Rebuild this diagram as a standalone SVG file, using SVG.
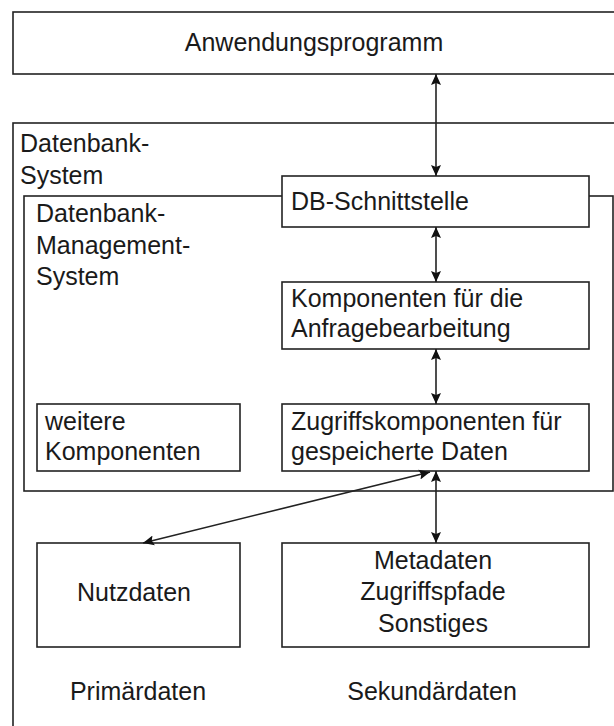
<svg xmlns="http://www.w3.org/2000/svg" width="614" height="726" viewBox="0 0 614 726">
<style>
.box{fill:none;stroke:#222;stroke-width:1.6}
.t{font-family:"Liberation Sans",Arial,sans-serif;font-size:25px;fill:#1a1a1a}
.c{text-anchor:middle}
.con{stroke:#222;stroke-width:1.6;fill:none;marker-start:url(#ah);marker-end:url(#ah)}
</style>
<defs>
<marker id="ah" markerUnits="userSpaceOnUse" markerWidth="12" markerHeight="12" viewBox="0 -6 12 12" refX="11" refY="0" orient="auto-start-reverse">
<path d="M0,-5 L11,0 L0,5 L2,0 z" fill="#111"/>
</marker>
</defs>
<rect width="614" height="726" fill="#fff"/>
<g id="anwendungsprogramm">
<rect class="box" x="13" y="12" width="610" height="62"/>
<text class="t c" x="314" y="51">Anwendungsprogramm</text>
</g>
<g id="datenbank-system">
<rect class="box" x="13" y="123" width="610" height="620"/>
<text class="t" x="20" y="152">Datenbank-</text>
<text class="t" x="20" y="184">System</text>
</g>
<g id="dbms">
<rect class="box" x="24" y="196" width="589" height="295"/>
<text class="t" x="36" y="222">Datenbank-</text>
<text class="t" x="36" y="254">Management-</text>
<text class="t" x="36" y="285">System</text>
</g>
<g id="db-schnittstelle">
<rect class="box" x="282" y="176" width="307" height="51" style="fill:#fff"/>
<text class="t" x="291" y="210">DB-Schnittstelle</text>
</g>
<g id="anfragebearbeitung">
<rect class="box" x="282" y="282" width="307" height="67"/>
<text class="t" x="291" y="307">Komponenten für die</text>
<text class="t" x="291" y="337">Anfragebearbeitung</text>
</g>
<g id="weitere-komponenten">
<rect class="box" x="37" y="404" width="203" height="67"/>
<text class="t" x="45" y="430">weitere</text>
<text class="t" x="45" y="460">Komponenten</text>
</g>
<g id="zugriffskomponenten">
<rect class="box" x="282" y="404" width="307" height="67"/>
<text class="t" x="291" y="430">Zugriffskomponenten für</text>
<text class="t" x="291" y="460">gespeicherte Daten</text>
</g>
<g id="nutzdaten">
<rect class="box" x="37" y="543" width="203" height="104"/>
<text class="t c" x="134" y="601">Nutzdaten</text>
</g>
<g id="metadaten">
<rect class="box" x="282" y="543" width="307" height="104"/>
<text class="t c" x="433" y="569">Metadaten</text>
<text class="t c" x="433" y="600">Zugriffspfade</text>
<text class="t c" x="433" y="632">Sonstiges</text>
</g>
<g id="labels">
<text class="t c" x="138" y="700">Primärdaten</text>
<text class="t c" x="432" y="700">Sekundärdaten</text>
</g>
<g id="connectors">
<line class="con" x1="436" y1="74" x2="436" y2="176"/>
<line class="con" x1="436" y1="227" x2="436" y2="282"/>
<line class="con" x1="436" y1="349" x2="436" y2="404"/>
<line class="con" x1="436" y1="471" x2="436" y2="543"/>
<line class="con" x1="430" y1="472" x2="143" y2="543"/>
</g>
</svg>
